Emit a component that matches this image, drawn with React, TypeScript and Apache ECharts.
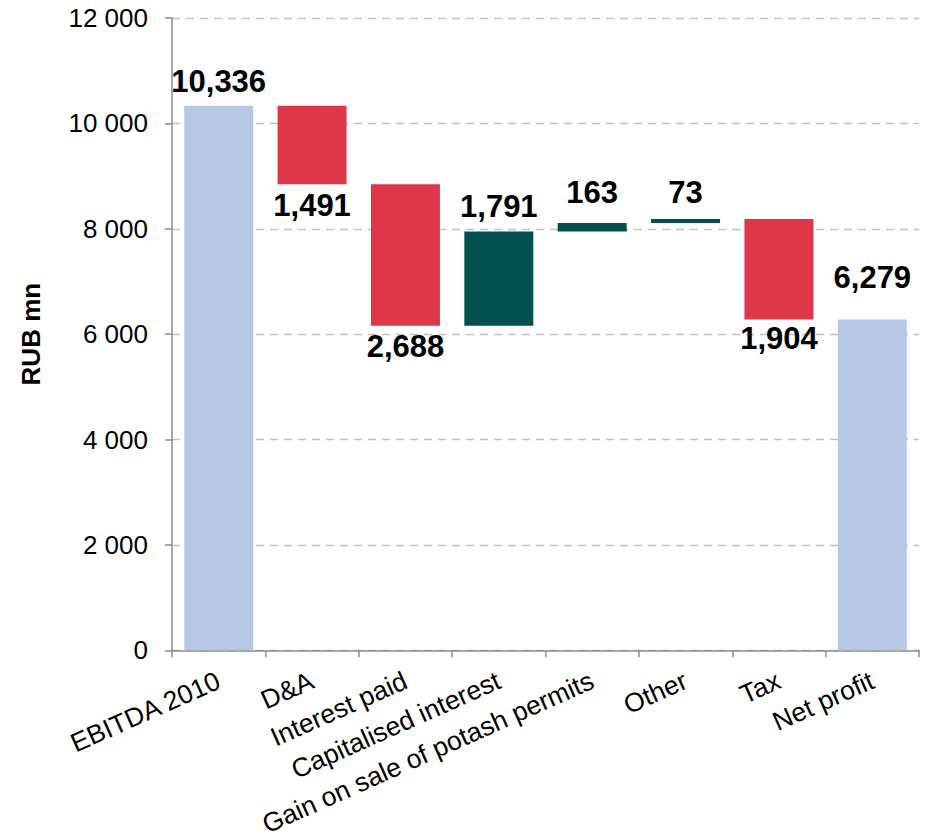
import React, { useEffect, useRef } from "react";
import * as echarts from "echarts";

const categories = [
  "EBITDA 2010",
  "D&A",
  "Interest paid",
  "Capitalised interest",
  "Gain on sale of potash permits",
  "Other",
  "Tax",
  "Net profit",
];
const changes = [10336, -1491, -2688, 1791, 163, 73, -1904, 6279];
const isTotal = [true, false, false, false, false, false, false, true];
const yMin = 0;
const yMax = 12000;
const yInterval = 2000;

const COLOR_TOTAL = "#B7C7E6";
const COLOR_NEG = "#DE3749";
const COLOR_POS = "#005050";
const FONT = "'Liberation Sans', Arial, sans-serif";

// label offsets (px) from bar ends, per category
const labelGaps = [9, 6, 5, 9, 15, 11, 4, 26];

function fmtComma(v: number) {
  return String(Math.round(v)).replace(/\B(?=(\d{3})+(?!\d))/g, ",");
}
function fmtSpace(v: number) {
  return String(Math.round(v)).replace(/\B(?=(\d{3})+(?!\d))/g, " ");
}

export default function App() {
  const ref = useRef<HTMLDivElement>(null);
  useEffect(() => {
    if (!ref.current) return;
    const chart = echarts.init(ref.current, undefined, { renderer: "svg" });

    const bases: number[] = [];
    const heights: any[] = [];
    let running = 0;
    changes.forEach((c, i) => {
      let base = 0;
      let h = 0;
      let color = COLOR_TOTAL;
      let pos: "top" | "bottom" = "top";
      if (isTotal[i]) {
        base = 0;
        h = c;
        running = c;
      } else if (c >= 0) {
        base = running;
        h = c;
        running += c;
        color = COLOR_POS;
      } else {
        running += c;
        base = running;
        h = -c;
        color = COLOR_NEG;
        pos = "bottom";
      }
      bases.push(base);
      heights.push({
        value: h,
        itemStyle: { color },
        label: {
          position: pos,
          distance: labelGaps[i],
        },
      });
    });

    chart.setOption({
      animation: false,
      grid: { left: 172, right: 7, top: 18, bottom: 187, containLabel: false },
      xAxis: {
        type: "category",
        data: categories,
        axisLine: { lineStyle: { color: "#8C8C8C", width: 1.5 } },
        axisTick: { show: true, length: 7, lineStyle: { color: "#8C8C8C", width: 1.5 } },
        axisLabel: {
          rotate: 24,
          interval: 0,
          margin: 29,
          fontSize: 26.5,
          color: "#000",
          fontFamily: FONT,
        },
      },
      yAxis: {
        type: "value",
        min: yMin,
        max: yMax,
        interval: yInterval,
        name: "RUB mn",
        nameLocation: "middle",
        nameGap: 128,
        nameTextStyle: { fontSize: 26, fontWeight: "bold", color: "#000", fontFamily: FONT },
        axisLine: { show: true, lineStyle: { color: "#8C8C8C", width: 1.5 } },
        axisTick: { show: true, length: 7, lineStyle: { color: "#8C8C8C", width: 1.5 } },
        axisLabel: {
          fontSize: 26,
          color: "#000",
          margin: 24,
          fontFamily: FONT,
          formatter: (v: number) => fmtSpace(v),
        },
        splitLine: {
          show: true,
          lineStyle: { color: "#C0C0C0", width: 1.3, type: [8, 6] },
        },
      },
      series: [
        {
          type: "bar",
          stack: "w",
          data: bases,
          itemStyle: { color: "transparent" },
          emphasis: { disabled: true },
          barWidth: 69,
          silent: true,
        },
        {
          type: "bar",
          stack: "w",
          data: heights,
          barWidth: 69,
          label: {
            show: true,
            fontSize: 31,
            fontWeight: "bold",
            color: "#000",
            fontFamily: FONT,
            formatter: (p: any) => fmtComma(p.value),
          },
        },
      ],
    });
    return () => chart.dispose();
  }, []);
  return (
    <div
      ref={ref}
      style={{ position: "fixed", left: 0, top: 0, width: 926, height: 839, background: "#fff" }}
    />
  );
}
